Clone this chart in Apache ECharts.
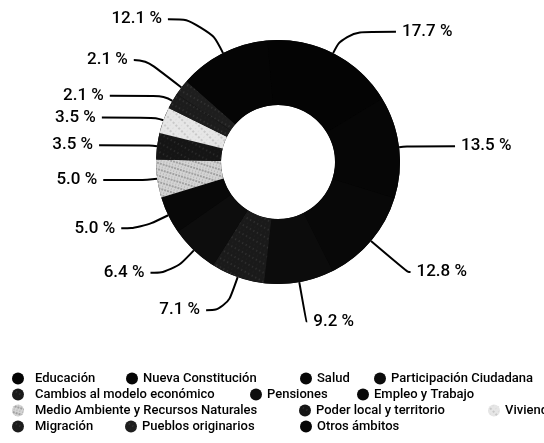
<!DOCTYPE html>
<html>
<head>
<meta charset="utf-8">
<script src="https://cdn.jsdelivr.net/npm/echarts@6/dist/echarts.min.js"></script>
<style>
html,body{margin:0;padding:0;background:#ffffff;}
#chart{width:544px;height:443px;}
</style>
</head>
<body>
<div id="chart"></div>
<script>
// ---- data ----
const categories = [
  'Educación', 'Nueva Constitución', 'Salud', 'Participación Ciudadana',
  'Cambios al modelo económico', 'Pensiones', 'Empleo y Trabajo',
  'Medio Ambiente y Recursos Naturales', 'Poder local y territorio', 'Vivienda',
  'Migración', 'Pueblos originarios', 'Otros ámbitos'
];
const values = [17.7, 13.5, 12.8, 9.2, 7.1, 6.4, 5.0, 5.0, 3.5, 3.5, 2.1, 2.1, 12.1];

// ---- styles ----
const sliceColors = ['#040404', '#060606', '#080808', '#0c0c0c', '#1a1a1a', '#0d0d0d', '#080808',
                     '#d4d4d4', '#151515', '#e6e6e6', '#1c1c1c', '#1e1e1e', '#050505'];
const lightDots = {symbol: 'circle', symbolSize: 0.7, color: 'rgba(255,255,255,0.16)', dashArrayX: [[1, 3], [3, 1]], dashArrayY: [2, 2], rotation: 0.5};
const darkDots = {symbol: 'circle', symbolSize: 0.8, color: 'rgba(0,0,0,0.55)', dashArrayX: [[1, 2], [2, 1]], dashArrayY: [2, 1], rotation: 0.3};
const sparseDots = {symbol: 'circle', symbolSize: 0.7, color: 'rgba(0,0,0,0.35)', dashArrayX: [[1, 3], [2, 2]], dashArrayY: [2, 2], rotation: 0.8};
const sliceDecals = [null, null, null, null, lightDots, null, null,
                     darkDots, lightDots, sparseDots, lightDots, lightDots, null];
// label line [length, length2] per slice
const lineLengths = [[24, 52], [8, 48], [48, 3], [40, 1], [35, 20], [31, 22], [30, 20],
                     [10, 44], [8, 50], [8, 54], [10, 54], [45, 12], [38, 38]];
// legend spots: [icon left, row]
const legendSpots = [[12, 0], [126, 0], [300, 0], [374, 0], [12, 1], [250, 1], [357, 1],
                     [12, 2], [299, 2], [488, 2], [12, 3], [125, 3], [300, 3]];
const legendRowTop = [372, 388, 404, 420];

const PIE_CENTER = [278, 162];
const PIE_RADIUS = [57, 122];

const chart = echarts.init(document.getElementById('chart'), null, {renderer: 'canvas'});

const seriesData = categories.map((name, i) => {
  const item = {
    name: name,
    value: values[i],
    itemStyle: {color: sliceColors[i]},
    labelLine: {length: lineLengths[i][0], length2: lineLengths[i][1]}
  };
  if (sliceDecals[i]) item.itemStyle.decal = sliceDecals[i];
  return item;
});

const legends = categories.map((name, i) => ({
  data: [{name: name, icon: 'circle'}],
  left: legendSpots[i][0],
  top: legendRowTop[legendSpots[i][1]],
  padding: 0,
  itemGap: 0,
  itemWidth: 12,
  itemHeight: 12,
  selectedMode: false,
  textStyle: {
    fontFamily: 'Roboto',
    fontSize: 13,
    fontWeight: 500,
    color: '#000000',
    padding: [0, 0, 0, legendSpots[i][0] < 20 ? 6 : 0]
  }
}));

chart.setOption({
  backgroundColor: '#ffffff',
  animation: false,
  legend: legends,
  series: [{
    // solid ring underneath to hide anti-aliasing seams between slices
    type: 'pie',
    silent: true,
    z: 1,
    center: PIE_CENTER,
    radius: PIE_RADIUS,
    label: {show: false},
    labelLine: {show: false},
    itemStyle: {color: '#050505', borderWidth: 0},
    data: [{value: 1, name: '__ring__'}]
  }, {
    type: 'pie',
    z: 2,
    center: PIE_CENTER,
    radius: PIE_RADIUS,
    startAngle: 95,
    clockwise: true,
    avoidLabelOverlap: true,
    itemStyle: {borderWidth: 0},
    label: {
      show: true,
      formatter: p => p.value.toFixed(1) + ' %',
      fontFamily: 'Roboto',
      fontSize: 17,
      fontWeight: 500,
      color: '#000000',
      distanceToLabelLine: 6
    },
    labelLine: {
      show: true,
      smooth: 0.5,
      lineStyle: {color: '#000000', width: 2}
    },
    data: seriesData
  }]
});
</script>
</body>
</html>
